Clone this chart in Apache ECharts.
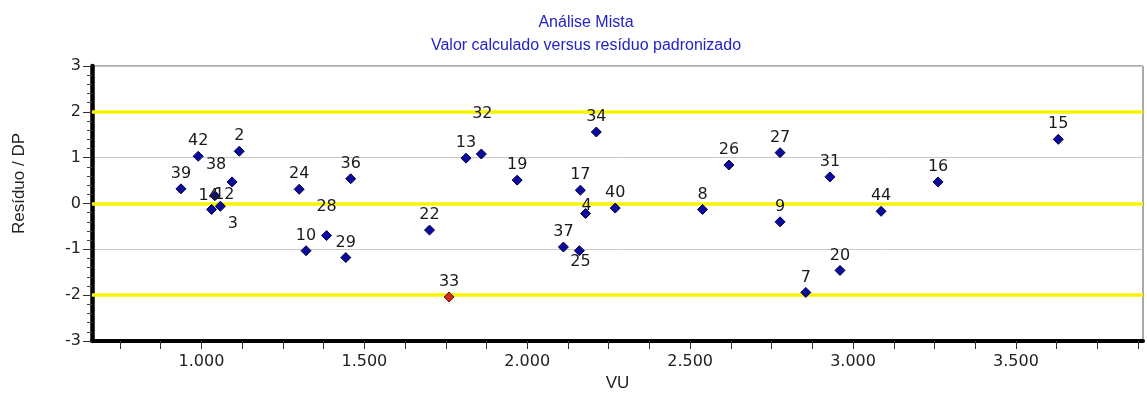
<!DOCTYPE html>
<html><head><meta charset="utf-8">
<script src="https://cdn.jsdelivr.net/npm/echarts@6/dist/echarts.min.js"></script>
<style>html,body{margin:0;padding:0;background:#fff}#c{width:1147px;height:398px}</style>
</head><body><div id="c"></div>
<script>
// ---- data ----
const pointIds    = ['42','2','39','38','14','12','3','24','36','28','10','29','22','33','13','32','19','34','17','4','40','37','25','8','26','27','9','31','7','20','44','16','15'];
const vuValues    = [0.990,1.116,0.937,1.094,1.031,1.058,1.041,1.300,1.458,1.384,1.321,1.443,1.700,1.760,1.812,1.859,1.969,2.212,2.163,2.179,2.270,2.111,2.160,2.538,2.619,2.776,2.776,2.929,2.855,2.960,3.086,3.261,3.630];
const residValues = [1.03,1.14,0.32,0.47,-0.13,-0.06,0.17,0.31,0.54,-0.70,-1.03,-1.18,-0.58,-2.04,0.99,1.08,0.51,1.56,0.29,-0.22,-0.10,-0.95,-1.03,-0.13,0.84,1.11,-0.40,0.58,-1.94,-1.46,-0.17,0.47,1.40];
const xTickValues = [1.0,1.5,2.0,2.5,3.0,3.5];
const xTickLabels = ['1.000','1.500','2.000','2.500','3.000','3.500'];
const xMinorTicks = [0.75,0.875,1.0,1.125,1.25,1.375,1.5,1.625,1.75,1.875,2.0,2.125,2.25,2.375,2.5,2.625,2.75,2.875,3.0,3.125,3.25,3.375,3.5,3.625,3.75,3.875];
const limitLines  = [2, 0, -2];

// ---- label placement (style) ----
const defaultOffset = [0, -15];
const labelOffsets = {'38':[-16,-17],'14':[-3,-14],'12':[4,-11],'3':[18,28],'28':[0,-29],'32':[1,-40],'4':[1,-8],'25':[1,11]};

const points = pointIds.map((id, i) => {
  const out = Math.abs(residValues[i]) > 2;
  return {
    name: id,
    value: [vuValues[i], residValues[i]],
    itemStyle: out ? {color:'#d0300f', borderColor:'#5a1000'} : undefined,
    label: {offset: labelOffsets[id] || defaultOffset}
  };
});

const numFont = 'DejaVu Sans';
const txtFont = 'Liberation Sans';

const chart = echarts.init(document.getElementById('c'), null, {renderer:'canvas'});
chart.setOption({
  backgroundColor:'#fff',
  animation:false,
  title:{
    text:'Análise Mista',
    subtext:'Valor calculado versus resíduo padronizado',
    left:581, top:10, textAlign:'center', itemGap:7,
    textStyle:{fontFamily:txtFont, fontSize:16, fontWeight:'normal', color:'#2323c8'},
    subtextStyle:{fontFamily:txtFont, fontSize:16, color:'#2323c8'}
  },
  grid:{left:92, right:4, top:66, bottom:57, show:true, borderColor:'#555', borderWidth:1, backgroundColor:'#fff', outerBoundsMode:'none'},
  xAxis:{
    type:'value', min:0.664, max:3.89,
    axisLine:{show:true, onZero:false, lineStyle:{color:'#000', width:4}},
    axisTick:{show:true, customValues:xMinorTicks, length:8, lineStyle:{color:'#333'}},
    axisLabel:{customValues:xTickValues, margin:13, fontFamily:numFont, fontSize:16, color:'#222',
      formatter:(v)=>{const k=xTickValues.indexOf(v); return k>=0?xTickLabels[k]:'';}},
    splitLine:{show:false},
    name:'VU', nameLocation:'middle', nameGap:33,
    nameTextStyle:{fontFamily:txtFont, fontSize:17, color:'#222'}
  },
  yAxis:{
    type:'value', min:-3, max:3, interval:1,
    axisLine:{show:true, onZero:false, lineStyle:{color:'#000', width:4.5}},
    axisTick:{show:true, length:9, lineStyle:{color:'#333'}},
    minorTick:{show:true, splitNumber:5, length:5, lineStyle:{color:'#444'}},
    axisLabel:{margin:11, fontFamily:numFont, fontSize:16, color:'#222'},
    splitLine:{show:true, lineStyle:{color:'#c8c8c8', width:1}},
    name:'Resíduo / DP', nameLocation:'middle', nameGap:64,
    nameTextStyle:{fontFamily:txtFont, fontSize:17, color:'#222', padding:[0,0,0,40]}
  },
  series:[
    {
      type:'scatter', data:[], z:1, silent:true,
      markLine:{silent:true, z:1, symbol:'none', label:{show:false},
        lineStyle:{color:'#f8f400', width:3.5, type:'solid'},
        data:limitLines.map(v=>({yAxis:v}))}
    },
    {
      type:'scatter', z:10,
      symbol:'diamond', symbolSize:10,
      itemStyle:{color:'#0b0b9c', borderColor:'#00004a', borderWidth:1, opacity:1},
      label:{show:true, position:'inside', formatter:(p)=>p.name,
        fontFamily:numFont, fontSize:16, color:'#1a1a1a', align:'center', verticalAlign:'middle'},
      data:points
    }
  ]
});
</script></body></html>
